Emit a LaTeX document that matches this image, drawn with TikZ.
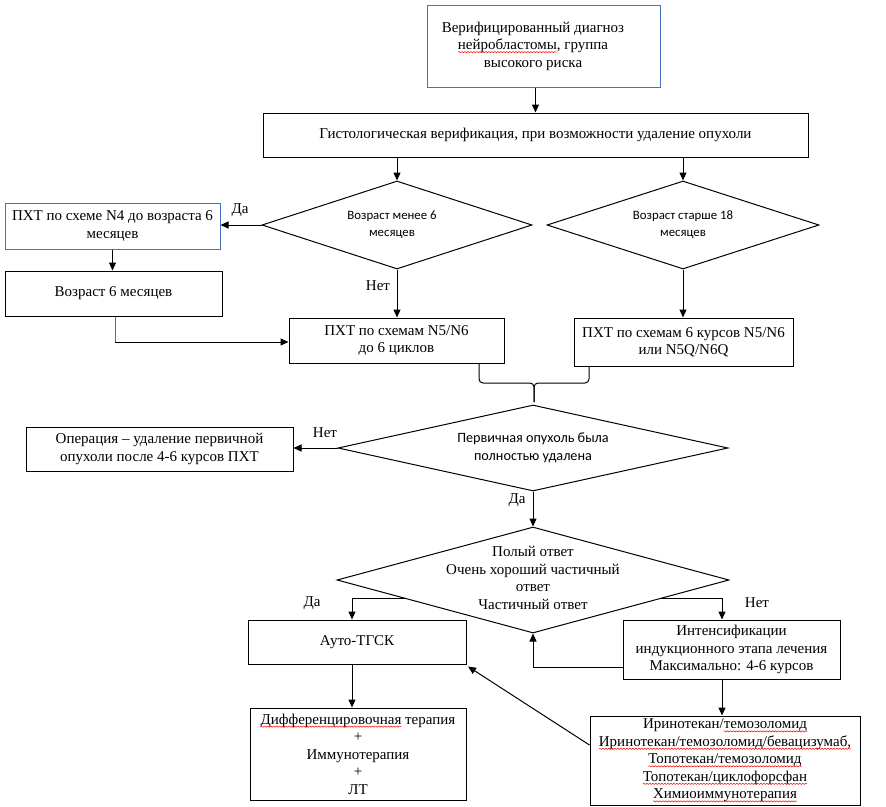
\documentclass[tikz,border=0pt]{standalone}
\usepackage{fontspec}
\setmainfont{Liberation Serif}
\newfontfamily\calib{Carlito}
\usetikzlibrary{arrows.meta,shapes.geometric,calc,decorations.pathmorphing}
\definecolor{wblue}{RGB}{68,114,196}
\newcommand\redwave[1]{\tikz[baseline=(rw.base)]{\node[draw=none,fill=none,inner sep=0pt,outer sep=0pt,minimum width=0pt,minimum height=0pt,shape=rectangle,anchor=base] (rw) {#1};\draw[overlay,red,line width=0.5pt,decorate,decoration={snake,amplitude=0.6pt,segment length=3pt}] ([yshift=-2.5pt]rw.base west) -- ([yshift=-2.5pt]rw.base east);}}
\newcommand\fs{\fontsize{15}{17.5}\selectfont}
\newcommand\fc{\calib\fontsize{12.8}{17}\selectfont}
\newcommand\fcb{\calib\fontsize{14.2}{18}\selectfont}
\begin{document}
\begin{tikzpicture}[x=1pt,y=-1pt,
  box/.style={draw, line width=1pt, inner sep=0pt, align=center, font=\fs},
  bbox/.style={box, draw=wblue},
  dia/.style={draw, shape=diamond, inner sep=0pt, line width=1pt},
  dtxt/.style={align=center, font=\fc, inner sep=0pt},
  arr/.style={-{Triangle[length=8pt,width=7pt]}, line width=1pt},
  con/.style={line width=1pt},
  lbl/.style={font=\fs, inner sep=1pt}]
\useasboundingbox (0,0) rectangle (886,806);
\fill[white] (0,0) rectangle (886,806);

% boxes
\node[bbox, minimum width=233, minimum height=82] (b1) at (543.5,46) {};
\node[align=center, font=\fs, inner sep=0pt] (b1t) at (533,46) {Верифицированный диагноз\\ \redwave{нейробластомы}, группа\\ высокого риска};
\node[box, minimum width=545, minimum height=44] (b2) at (535.5,135) {Гистологическая верификация, при возможности удаление опухоли};

\node[dia, minimum width=270, minimum height=88] (d1) at (397,225) {};
\node[dtxt] (d1t) at (392,225) {Возраст менее 6\\месяцев};
\node[dia, minimum width=272, minimum height=88] (d2) at (683,225) {};
\node[dtxt] (d2t) at (683,225) {Возраст старше 18\\месяцев};

\node[bbox, minimum width=215, minimum height=46] (n4) at (112.5,226) {ПХТ по схеме N4 до возраста 6\\месяцев};
\node[box, minimum width=217, minimum height=45] (v6) at (113.5,293.5) {Возраст 6 месяцев};
\node[box, minimum width=215, minimum height=45] (n56) at (396.5,340.5) {ПХТ по схемам N5/N6\\до 6 циклов};
\node[box, minimum width=219, minimum height=48] (n5q) at (683.5,342) {ПХТ по схемам 6 курсов N5/N6\\или N5Q/N6Q};

\node[dia, minimum width=390, minimum height=86] (d3) at (533,448) {};
\node[dtxt, font=\fcb] (d3t) at (533,448) {Первичная опухоль была\\полностью удалена};
\node[box, minimum width=267, minimum height=44] (op) at (159.5,449) {Операция – удаление первичной\\опухоли после 4-6 курсов ПХТ};

\node[dia, minimum width=392, minimum height=106] (d4) at (533,580) {};
\node[align=center, font=\fs, inner sep=0pt] (d4t) at (533,578) {Полый ответ\\Очень хороший частичный\\ответ\\Частичный ответ};

\node[box, minimum width=218, minimum height=44] (auto) at (357,642) {Ауто-ТГСК};
\node[box, minimum width=217, minimum height=59] (int) at (731.5,649.5) {Интенсификации\\индукционного этапа лечения\\Максимально: 4-6 курсов};
\node[box, minimum width=216, minimum height=92] (diff) at (358,754) {\redwave{Дифференцировочная} терапия\\+\\Иммунотерапия\\+\\ЛТ};
\node[box, minimum width=270, minimum height=89] (list) at (725,760.5) {Иринотекан/\redwave{темозоломид}\\\redwave{Иринотекан/темозоломид/бевацизумаб,}\\\redwave{Топотекан/темозоломид}\\\redwave{Топотекан/циклофорсфан}\\\redwave{Химиоиммунотерапия}};

% helper coordinates
\coordinate (c1) at (115,342);
\coordinate (bl) at (479,383);
\coordinate (br) at (589,383);
\coordinate (bm) at (534,383);
\coordinate (bt) at (534,402);
\coordinate (c2) at (533,667);
\coordinate (xa) at (352,0);
\coordinate (xb) at (722,0);
\coordinate (p1) at ($(d4.west)!0.35!(d4.south)$);
\coordinate (p2) at ($(d4.east)!0.35!(d4.south)$);

% connectors
\draw[arr] (b2.north |- b1.south) -- (b2.north);
\draw[arr] (d1.north |- b2.south) -- (d1.north);
\draw[arr] (d2.north |- b2.south) -- (d2.north);
\draw[arr] (d1.west) -- (d1.west -| n4.east);
\node[lbl] (lda1) at (240,210) {Да};
\draw[arr] (n4.south) -- (n4.south |- v6.north);
\draw[con, wblue] (v6.south -| c1) -- (c1);
\draw[arr] (c1) -- (c1 -| n56.west);
\draw[arr] (d1.south) -- (d1.south |- n56.north);
\node[lbl] (lnet1) at (378,286) {Нет};
\draw[arr] (d2.south) -- (d2.south |- n5q.north);
\draw[con, rounded corners=4pt] (n56.south -| bl) -- (bl) -- (bm) -- (bt);
\draw[con, rounded corners=4pt] (n5q.south -| br) -- (br) -- (bm) -- (bt);
\draw[arr] (d3.west) -- (d3.west -| op.east);
\node[lbl] (lnet2) at (325,433) {Нет};
\draw[arr] (d3.south) -- (d4.north);
\node[lbl] (lda2) at (517,500) {Да};
\draw[arr] (p1) -| (auto.north -| xa);
\node[lbl] (lda3) at (312,603) {Да};
\draw[arr] (p2) -| (int.north -| xb);
\node[lbl] (lnet3) at (757,603) {Нет};
\draw[arr] (c2 -| int.west) -- (c2) -- (d4.south);
\draw[arr] (auto.south -| xa) -- (diff.north -| xa);
\draw[arr] (int.south -| xb) -- (list.north -| xb);
\draw[arr] ([yshift=15.5pt]list.west) -- ([shift={(1.5pt,-2pt)}]auto.south east);
\end{tikzpicture}
\end{document}
